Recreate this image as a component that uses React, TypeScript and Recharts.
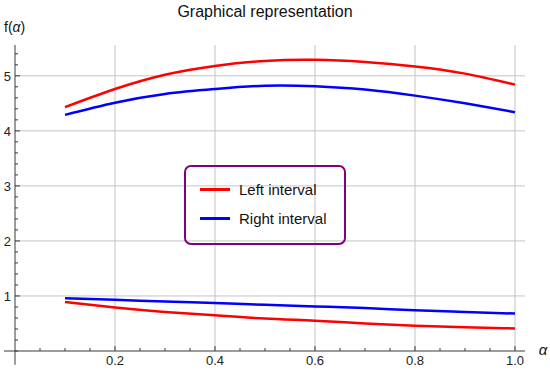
import { LineChart, Line, XAxis, YAxis, Legend, ReferenceLine } from "recharts";

// alpha values along the x axis
const alpha = [0.1, 0.2, 0.3, 0.4, 0.5, 0.6, 0.7, 0.8, 0.9, 1.0];

// left interval (red): upper and lower branch
const leftUpper = [4.43, 4.76, 5.02, 5.18, 5.27, 5.29, 5.25, 5.17, 5.04, 4.84];
const leftLower = [0.89, 0.79, 0.71, 0.65, 0.59, 0.55, 0.5, 0.46, 0.43, 0.41];

// right interval (blue): upper and lower branch
const rightUpper = [4.29, 4.51, 4.67, 4.76, 4.82, 4.81, 4.75, 4.64, 4.5, 4.34];
const rightLower = [0.96, 0.93, 0.9, 0.87, 0.84, 0.81, 0.78, 0.74, 0.71, 0.68];

// ticks (minor + major) and labelled major ticks / grid lines
const xTicks = [0.05, 0.1, 0.15, 0.2, 0.25, 0.3, 0.35, 0.4, 0.45, 0.5, 0.55, 0.6, 0.65, 0.7, 0.75, 0.8, 0.85, 0.9, 0.95, 1.0];
const yTicks = [0, 0.2, 0.4, 0.6, 0.8, 1, 1.2, 1.4, 1.6, 1.8, 2, 2.2, 2.4, 2.6, 2.8, 3, 3.2, 3.4, 3.6, 3.8, 4, 4.2, 4.4, 4.6, 4.8, 5, 5.2, 5.4];
const xMajor = [0.2, 0.4, 0.6, 0.8, 1.0];
const yMajor = [1, 2, 3, 4, 5];

const data = alpha.map((a, i) => ({
  a,
  leftUpper: leftUpper[i],
  leftLower: leftLower[i],
  rightUpper: rightUpper[i],
  rightLower: rightLower[i],
}));

const AXIS = "#3a3a3a";
const GRID = "#c4c4c4";
const FONT = "'Liberation Sans', Arial, sans-serif";

const isIn = (list: number[], v: number) => list.some((m) => Math.abs(m - v) < 1e-6);

function XTick({ x, y, payload }: any) {
  const major = isIn(xMajor, payload.value);
  return (
    <g>
      <line x1={x} x2={x} y1={y} y2={y - (major ? 5 : 3)} stroke={AXIS} strokeWidth={1} />
      {major && (
        <text x={x} y={y + 14} textAnchor="middle" fontSize={13} fontFamily={FONT} fill="#222">
          {payload.value.toFixed(1)}
        </text>
      )}
    </g>
  );
}

function YTick({ x, y, payload }: any) {
  const major = isIn(yMajor, payload.value);
  return (
    <g>
      <line x1={x} x2={x + (major ? 5 : 3)} y1={y} y2={y} stroke={AXIS} strokeWidth={1} />
      {major && (
        <text x={x - 4} y={y + 5} textAnchor="end" fontSize={13} fontFamily={FONT} fill="#222">
          {payload.value}
        </text>
      )}
    </g>
  );
}

function LegendBox({ payload }: any) {
  const items = (payload || []).filter((e: any) => e.type !== "none");
  return (
    <div
      style={{
        boxSizing: "border-box",
        width: 162,
        height: 80,
        border: "2px solid #800080",
        borderRadius: 7,
        paddingTop: 8,
        paddingLeft: 14,
        fontFamily: FONT,
        fontSize: 15,
        color: "#111",
      }}
    >
      {items.map((e: any) => (
        <div key={e.value} style={{ display: "flex", alignItems: "center", height: 29 }}>
          <span style={{ display: "inline-block", width: 30, height: 3, background: e.color, marginRight: 9 }} />
          <span>{e.value}</span>
        </div>
      ))}
    </div>
  );
}

export default function App() {
  return (
    <div style={{ position: "absolute", left: 0, top: 0, width: 550, height: 371, background: "#fff" }}>
      <LineChart width={550} height={371} data={data} margin={{ top: 45, right: 25, left: 0, bottom: 0 }}>
        <XAxis
          dataKey="a"
          type="number"
          domain={[0, 1.02]}
          ticks={xTicks}
          interval={0}
          height={20}
          stroke={AXIS}
          tickLine={false}
          tickSize={0}
          tickMargin={0}
          tick={<XTick />}
        />
        <YAxis
          type="number"
          domain={[0, 5.56]}
          ticks={yTicks}
          interval={0}
          width={15}
          stroke={AXIS}
          tickLine={false}
          tickSize={0}
          tickMargin={0}
          tick={<YTick />}
        />
        <ReferenceLine x={xMajor[0]} stroke={GRID} ifOverflow="visible" />
        <ReferenceLine x={xMajor[1]} stroke={GRID} ifOverflow="visible" />
        <ReferenceLine x={xMajor[2]} stroke={GRID} ifOverflow="visible" />
        <ReferenceLine x={xMajor[3]} stroke={GRID} ifOverflow="visible" />
        <ReferenceLine x={xMajor[4]} stroke={GRID} ifOverflow="visible" />
        <ReferenceLine y={yMajor[0]} stroke={GRID} ifOverflow="visible" />
        <ReferenceLine y={yMajor[1]} stroke={GRID} ifOverflow="visible" />
        <ReferenceLine y={yMajor[2]} stroke={GRID} ifOverflow="visible" />
        <ReferenceLine y={yMajor[3]} stroke={GRID} ifOverflow="visible" />
        <ReferenceLine y={yMajor[4]} stroke={GRID} ifOverflow="visible" />
        <ReferenceLine segment={[{ x: -0.022, y: 0 }, { x: 0, y: 0 }]} stroke={AXIS} ifOverflow="visible" />
        <ReferenceLine segment={[{ x: 0, y: -0.25 }, { x: 0, y: 0 }]} stroke={AXIS} ifOverflow="visible" />
        <Legend
          layout="horizontal"
          verticalAlign="middle"
          align="center"
          content={<LegendBox />}
          wrapperStyle={{ left: 184, top: 165, width: 162, height: 80 }}
        />
        <Line dataKey="leftUpper" name="Left interval" type="natural" stroke="#ff0000" strokeWidth={2.5} dot={false} isAnimationActive={false} />
        <Line dataKey="rightUpper" name="Right interval" type="natural" stroke="#0000ff" strokeWidth={2.5} dot={false} isAnimationActive={false} />
        <Line dataKey="rightLower" name="Right interval (lower)" legendType="none" type="natural" stroke="#0000ff" strokeWidth={2.5} dot={false} isAnimationActive={false} />
        <Line dataKey="leftLower" name="Left interval (lower)" legendType="none" type="natural" stroke="#ff0000" strokeWidth={2.5} dot={false} isAnimationActive={false} />
      </LineChart>
      <svg width={550} height={371} style={{ position: "absolute", left: 0, top: 0, pointerEvents: "none" }}>
        <text x={265} y={17} textAnchor="middle" fontSize={16} fontFamily={FONT} fill="#111">
          Graphical representation
        </text>
        <text x={4} y={32} fontSize={14} fontFamily={FONT} fill="#111">
          f(<tspan fontStyle="italic">α</tspan>)
        </text>
        <text x={543} y={355} textAnchor="middle" fontSize={15} fontStyle="italic" fontFamily={FONT} fill="#111">
          α
        </text>
      </svg>
    </div>
  );
}
